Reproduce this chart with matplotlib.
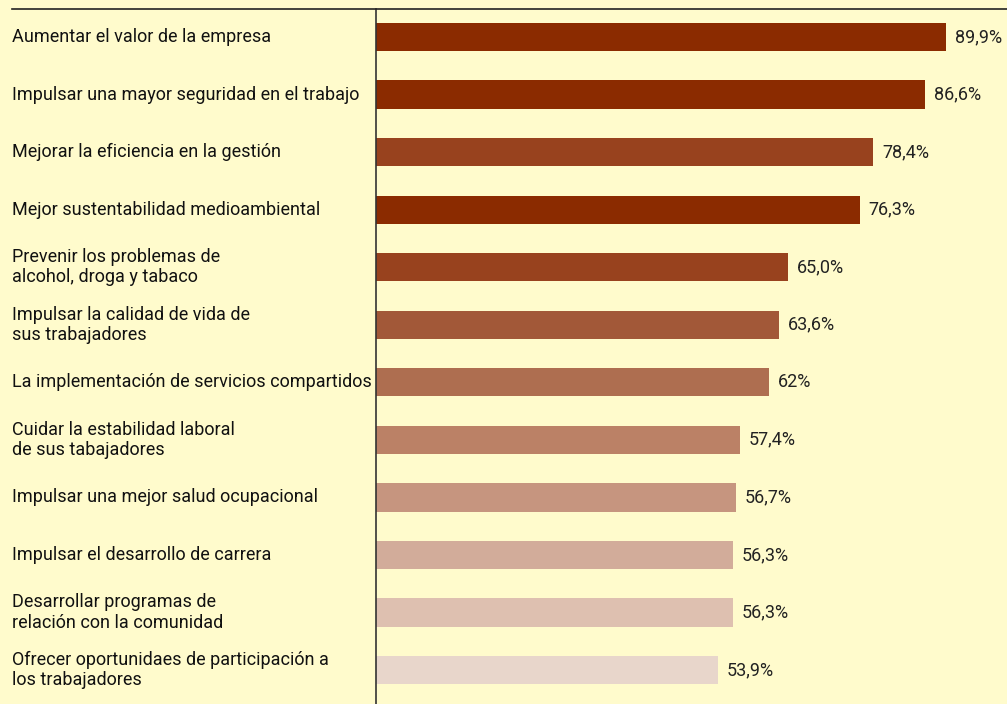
import matplotlib.pyplot as plt
from matplotlib.lines import Line2D
from matplotlib.transforms import blended_transform_factory

categories = [
    "Aumentar el valor de la empresa",
    "Impulsar una mayor seguridad en el trabajo",
    "Mejorar la eficiencia en la gestión",
    "Mejor sustentabilidad medioambiental",
    "Prevenir los problemas de\nalcohol, droga y tabaco",
    "Impulsar la calidad de vida de\nsus trabajadores",
    "La implementación de servicios compartidos",
    "Cuidar la estabilidad laboral\nde sus tabajadores",
    "Impulsar una mejor salud ocupacional",
    "Impulsar el desarrollo de carrera",
    "Desarrollar programas de\nrelación con la comunidad",
    "Ofrecer oportunidaes de participación a\nlos trabajadores",
]
values = [89.9, 86.6, 78.4, 76.3, 65.0, 63.6, 62.0, 57.4, 56.7, 56.3, 56.3, 53.9]
value_labels = ["89,9%", "86,6%", "78,4%", "76,3%", "65,0%", "63,6%",
                "62%", "57,4%", "56,7%", "56,3%", "56,3%", "53,9%"]
bar_colors = ["#8B2B00", "#8B2B00", "#98421E", "#8B2B00", "#98421E", "#A25838",
              "#AE6E50", "#BB8166", "#C6957F", "#D2AC9A", "#DEC0B0", "#E8D6CB"]

BG = "#FFFBCC"
plt.rcParams['font.family'] = ['Roboto', 'DejaVu Sans']

fig = plt.figure(figsize=(10.07, 7.04), dpi=100, facecolor=BG)
ax = fig.add_axes([376 / 1007, 0, 1 - 376 / 1007, 695 / 704])
ax.set_facecolor(BG)

pos = list(range(len(values)))
ax.barh(pos, values, height=0.49, color=bar_colors)
ax.set_ylim(11.59, -0.487)
ax.set_xlim(0, 99.5)

for p, v, lab in zip(pos, values, value_labels):
    ax.text(v + 1.4, p, lab, va='center', ha='left', fontsize=13,
            color='#222222')

trans = blended_transform_factory(fig.transFigure, ax.transData)
for p, cat in zip(pos, categories):
    ax.text(12 / 1007, p, cat, transform=trans, va='center', ha='left',
            fontsize=13, color='#111111', linespacing=1.15)

for s in ['top', 'right', 'bottom']:
    ax.spines[s].set_visible(False)
ax.spines['left'].set_color('#333333')
ax.spines['left'].set_linewidth(1.2)
ax.set_xticks([])
ax.set_yticks([])

# top rule across the whole width
fig.add_artist(Line2D([12 / 1007, 1.0], [695 / 704, 695 / 704],
                      transform=fig.transFigure, color='#222222', linewidth=1.2))

fig.savefig('out.png', dpi=100, facecolor=BG)
